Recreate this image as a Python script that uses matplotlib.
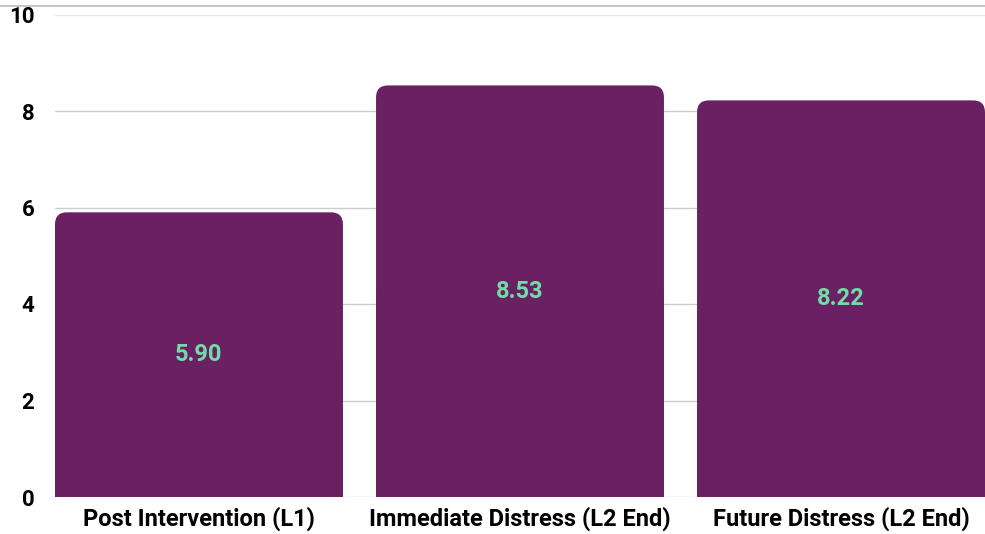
import matplotlib.pyplot as plt
from matplotlib.patches import FancyBboxPatch, Rectangle
from matplotlib.lines import Line2D

categories = ['Post Intervention (L1)', 'Immediate Distress (L2 End)', 'Future Distress (L2 End)']
values = [5.90, 8.53, 8.22]
yticks = [0, 2, 4, 6, 8, 10]

bar_color = '#6a2164'
label_color = '#72dca6'

plt.rcParams['font.family'] = ['Roboto', 'DejaVu Sans']

fig = plt.figure(figsize=(9.85, 5.34), dpi=100)
ax = fig.add_axes([55 / 985, 1 - 497 / 534, 930 / 985, 482.5 / 534])

bars = ax.bar(range(len(categories)), values, width=0.897, color=bar_color)
ax.set_xlim(-0.4485, 2.4485)
ax.set_ylim(0, 10)

# px per data unit, used to round the top corners evenly
px_x = 930 / (2.4485 + 0.4485)
px_y = 482.5 / 10
rad = 12 / px_x
for b in bars:
	b.set_visible(False)
	x, w, h = b.get_x(), b.get_width(), b.get_height()
	p = FancyBboxPatch((x, 0), w, h, boxstyle='round,pad=0,rounding_size=%f' % rad,
		mutation_aspect=px_x / px_y, facecolor=bar_color, edgecolor='none', zorder=3)
	ax.add_patch(p)
	ax.add_patch(Rectangle((x, 0), w, h / 2, facecolor=bar_color, edgecolor='none', zorder=3))
	ax.text(x + w / 2, h / 2, '%.2f' % h, ha='center', va='center', color=label_color,
		fontsize=17, fontweight='bold', zorder=4)

ax.set_yticks(yticks)
ax.set_yticklabels([str(t) for t in yticks], fontsize=16, fontweight='bold')
ax.set_xticks(range(len(categories)))
ax.set_xticklabels(categories, fontsize=17, fontweight='bold')
ax.tick_params(axis='both', length=0)
ax.tick_params(axis='y', pad=15)
ax.tick_params(axis='x', pad=7)
for s in ax.spines.values():
	s.set_visible(False)
ax.grid(axis='y', color='#cccccc', linewidth=1, zorder=0)
ax.get_ygridlines()[-1].set_color('#e8e8e8')
ax.set_axisbelow(True)

fig.add_artist(Line2D([0, 1], [1 - 6 / 534, 1 - 6 / 534], color='#bbbbbb', linewidth=1.2))

fig.savefig('out.png', dpi=100)
